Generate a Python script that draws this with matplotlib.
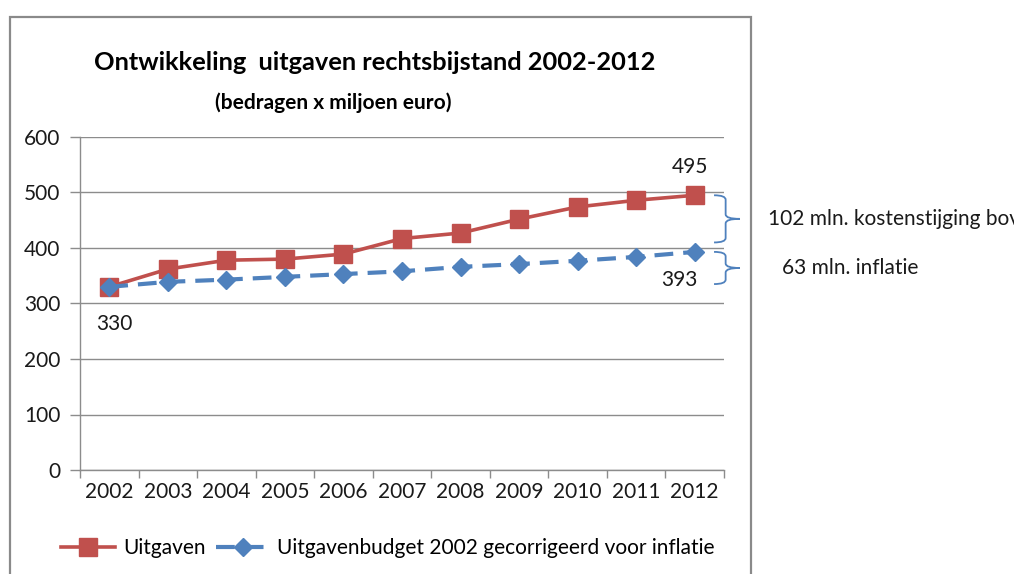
import matplotlib
matplotlib.use('Agg')
from matplotlib import pyplot
from matplotlib.path import Path
from matplotlib.patches import PathPatch, Rectangle

years = [2002, 2003, 2004, 2005, 2006, 2007, 2008, 2009, 2010, 2011, 2012]
uitgaven = [330, 362, 378, 380, 389, 417, 427, 452, 474, 486, 495]
gecorrigeerd = [330, 339, 343, 348, 353, 358, 366, 371, 377, 384, 393]
y_ticks = [0, 100, 200, 300, 400, 500, 600]

title = 'Ontwikkeling  uitgaven rechtsbijstand 2002-2012'
subtitle = '(bedragen x miljoen euro)'
label_uitgaven = 'Uitgaven'
label_gecorrigeerd = 'Uitgavenbudget 2002 gecorrigeerd voor inflatie'
note_stijging = '102 mln. kostenstijging boven inflatie'
note_inflatie = '63 mln. inflatie'

RED = '#C0504D'
BLUE = '#4F81BD'
GRID = '#8C8C8C'
TXT = '#1a1a1a'
FS = 15

pyplot.rcParams['font.family'] = ['Lato', 'DejaVu Sans']


def brace(ax, x0, width, y_bottom, y_top, color):
    # right facing curly brace, drawn in data coordinates
    xm = x0 + width * 0.45
    xt = x0 + width
    ymid = (y_bottom + y_top) / 2.0
    r = min(8.0, (y_top - y_bottom) / 4.0)
    verts = [
        (x0, y_top), (xm, y_top), (xm, y_top - r),
        (xm, ymid + r),
        (xm, ymid), (xt, ymid),
        (xm, ymid), (xm, ymid - r),
        (xm, y_bottom + r),
        (xm, y_bottom), (x0, y_bottom),
    ]
    codes = [
        Path.MOVETO, Path.CURVE3, Path.CURVE3,
        Path.LINETO,
        Path.CURVE3, Path.CURVE3,
        Path.CURVE3, Path.CURVE3,
        Path.LINETO,
        Path.CURVE3, Path.CURVE3,
    ]
    ax.add_patch(PathPatch(Path(verts, codes), facecolor='none',
                           edgecolor=color, lw=1.3, clip_on=False))


def main():
    fig = pyplot.figure(figsize=(10.14, 5.74), dpi=100)
    try:
        # chart border
        fig.patches.append(Rectangle((10 / 1014, -0.05), 741 / 1014, 1.05 - 17 / 574,
                                     transform=fig.transFigure, fill=False,
                                     edgecolor='#8a8a8a', lw=1.6))

        ax = fig.add_axes([80 / 1014, 104 / 574, 644 / 1014, 333 / 574])
        ax.plot(years, uitgaven, color=RED, lw=2.6, marker='s', ms=12.5,
                label=label_uitgaven, zorder=3)
        ax.plot(years, gecorrigeerd, color=BLUE, lw=3, linestyle=(0, (4.5, 2.4)),
                marker='D', ms=9, label=label_gecorrigeerd, zorder=4)

        ax.set_xlim(years[0] - 0.5, years[-1] + 0.5)
        ax.set_ylim(0, 600)
        ax.set_yticks(y_ticks)
        ax.set_xticks(years)
        ax.set_xticks([y - 0.5 for y in years] + [years[-1] + 0.5], minor=True)
        ax.tick_params(axis='x', which='major', length=0, pad=9,
                       labelsize=FS, labelcolor=TXT)
        ax.tick_params(axis='x', which='minor', length=6, width=1, color=GRID,
                       direction='out')
        ax.tick_params(axis='y', length=7, width=1, color=GRID, pad=7,
                       labelsize=FS, labelcolor=TXT)
        ax.grid(axis='y', color=GRID, lw=1)
        ax.set_axisbelow(True)
        for side in ('top', 'right'):
            ax.spines[side].set_visible(False)
        for side in ('left', 'bottom'):
            ax.spines[side].set_color(GRID)
            ax.spines[side].set_linewidth(1)

        # value labels
        ax.annotate(str(uitgaven[0]), (years[0], uitgaven[0]), xytext=(5, -37),
                    textcoords='offset pixels', ha='center', va='center',
                    fontsize=FS, color=TXT)
        ax.annotate(str(uitgaven[-1]), (years[-1], uitgaven[-1]), xytext=(-5, 28),
                    textcoords='offset pixels', ha='center', va='center',
                    fontsize=FS, color=TXT)
        ax.annotate(str(gecorrigeerd[-1]), (years[-1], gecorrigeerd[-1]),
                    xytext=(-15, -28), textcoords='offset pixels',
                    ha='center', va='center', fontsize=FS, color=TXT)

        # braces and notes
        bx = years[-1] + 0.33
        brace(ax, bx, 0.44, 410, 495, BLUE)
        brace(ax, bx, 0.44, 335, 393, BLUE)
        ax.text(years[-1] + 1.25, (410 + 495) / 2, note_stijging, ha='left',
                va='center', fontsize=FS, color=TXT, clip_on=False)
        ax.text(years[-1] + 1.49, (335 + 393) / 2, note_inflatie, ha='left',
                va='center', fontsize=FS, color=TXT, clip_on=False)

        fig.text(375 / 1014, 1 - 63 / 574, title, ha='center', va='center',
                 fontsize=18.3, fontweight='bold', color='black')
        fig.text(333 / 1014, 1 - 103 / 574, subtitle, ha='center', va='center',
                 fontsize=15, fontweight='bold', color='black')

        fig.legend(loc='center', bbox_to_anchor=(388 / 1014, 1 - 548 / 574),
                   ncol=2, frameon=False, fontsize=FS, handlelength=2.6,
                   columnspacing=0.5, handletextpad=0.35, borderpad=0)

        fig.savefig('out.png', dpi=100)
    finally:
        pyplot.close(fig)


if __name__ == '__main__':
    main()
